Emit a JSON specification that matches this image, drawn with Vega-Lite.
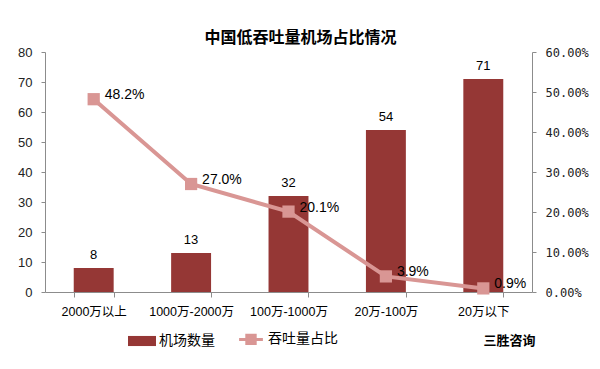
{
  "$schema": "https://vega.github.io/schema/vega-lite/v6.json",
  "autosize": "none",
  "width": 487,
  "height": 240,
  "padding": {"left": 45, "top": 52, "right": 68, "bottom": 77},
  "background": "white",
  "config": {
    "view": {"stroke": null},
    "font": "Liberation Sans, Noto Sans CJK SC"
  },
  "title": {
    "text": "中国低吞吐量机场占比情况",
    "font": "Noto Sans CJK SC",
    "fontSize": 16,
    "fontWeight": "bold",
    "color": "#000000",
    "anchor": "middle",
    "dx": 12,
    "offset": 0
  },
  "data": {
    "values": [
      {"category": "2000万以上", "count": 8, "share": 0.482},
      {"category": "1000万-2000万", "count": 13, "share": 0.270},
      {"category": "100万-1000万", "count": 32, "share": 0.201},
      {"category": "20万-100万", "count": 54, "share": 0.039},
      {"category": "20万以下", "count": 71, "share": 0.009}
    ]
  },
  "encoding": {
    "x": {
      "field": "category",
      "type": "nominal",
      "sort": null,
      "scale": {"paddingInner": 0.59, "paddingOuter": 0.295},
      "axis": {
        "title": "三胜咨询",
        "titleFont": "Noto Sans CJK SC",
        "titleFontSize": 13,
        "titleFontWeight": "bold",
        "titleColor": "#000000",
        "titleAnchor": "end",
        "titleAlign": "right",
        "titleBaseline": "middle",
        "titleX": 490,
        "titleY": 48,
        "labelAngle": 0,
        "labelFont": "Liberation Sans, Noto Sans CJK SC",
        "labelFontSize": 12.5,
        "labelColor": "#000000",
        "labelPadding": 8,
        "tickBand": "extent",
        "tickSize": 5,
        "tickColor": "#8c8c8c",
        "domainColor": "#8c8c8c",
        "grid": false
      }
    }
  },
  "layer": [
    {
      "mark": {"type": "bar", "color": "#953735"},
      "encoding": {
        "y": {
          "field": "count",
          "type": "quantitative",
          "scale": {"domain": [0, 80]},
          "axis": {
            "title": null,
            "values": [0, 10, 20, 30, 40, 50, 60, 70, 80],
            "grid": false,
            "tickSize": 4,
            "tickColor": "#8c8c8c",
            "domainColor": "#8c8c8c",
            "labelPadding": 9,
            "labelFont": "Liberation Sans",
            "labelFontSize": 13,
            "labelColor": "#222222"
          }
        },
        "color": {
          "datum": "机场数量",
          "type": "nominal",
          "scale": {"domain": ["机场数量", "吞吐量占比"], "range": ["#953735", "#D99694"]},
          "legend": {
            "title": null,
            "orient": "none",
            "direction": "horizontal",
            "legendX": 90,
            "legendY": 280,
            "symbolSize": 784,
            "labelFont": "Noto Sans CJK SC",
            "labelFontSize": 14,
            "labelColor": "#000000",
            "labelOffset": 10,
            "columnPadding": 18,
            "encode": {
              "symbols": {
                "update": {
                  "shape": {"signal": "datum.value === '机场数量' ? 'M-1,-0.36H1V0.36H-1Z' : 'M-0.85,0H0.85M-0.3,-0.3H0.3V0.3H-0.3Z'"},
                  "fill": {"signal": "datum.value === '机场数量' ? '#953735' : '#D99694'"},
                  "stroke": {"signal": "datum.value === '机场数量' ? '#953735' : '#D99694'"},
                  "strokeWidth": {"signal": "datum.value === '机场数量' ? 0 : 3"},
                  "opacity": {"value": 1}
                }
              }
            }
          }
        }
      }
    },
    {
      "mark": {"type": "text", "baseline": "bottom", "dy": -6, "fontSize": 13, "font": "Liberation Sans", "color": "#000000"},
      "encoding": {
        "y": {"field": "count", "type": "quantitative", "scale": {"domain": [0, 80]}, "axis": null},
        "text": {"field": "count", "type": "quantitative"}
      }
    },
    {
      "mark": {"type": "line", "strokeWidth": 4, "color": "#D99694", "point": {"filled": true, "shape": "square", "size": 150, "color": "#D99694", "opacity": 1}},
      "encoding": {
        "y": {
          "field": "share",
          "type": "quantitative",
          "scale": {"domain": [0, 0.6]},
          "axis": {
            "orient": "right",
            "title": null,
            "values": [0, 0.1, 0.2, 0.3, 0.4, 0.5, 0.6],
            "format": ".2%",
            "grid": false,
            "tickSize": 4,
            "tickColor": "#8c8c8c",
            "domainColor": "#8c8c8c",
            "labelPadding": 9,
            "labelFont": "DejaVu Sans Mono",
            "labelFontSize": 12,
            "labelColor": "#222222"
          }
        },
        "color": {"datum": "吞吐量占比", "type": "nominal"}
      }
    },
    {
      "mark": {"type": "text", "align": "left", "baseline": "middle", "dx": 11, "dy": -4, "fontSize": 14, "font": "Liberation Sans", "color": "#000000"},
      "encoding": {
        "y": {"field": "share", "type": "quantitative", "scale": {"domain": [0, 0.6]}, "axis": null},
        "text": {"field": "share", "type": "quantitative", "format": ".1%"}
      }
    }
  ],
  "resolve": {"scale": {"y": "independent"}}
}
